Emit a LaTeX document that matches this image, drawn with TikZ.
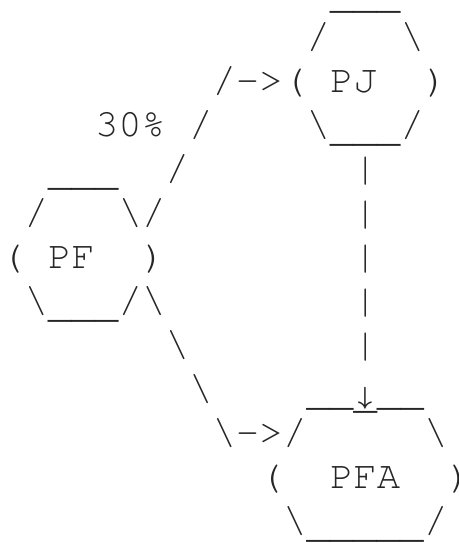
\documentclass[tikz,border=0pt]{standalone}
\usepackage[T1]{fontenc}
% Courier-style typewriter face for the character drawing
\newcommand\asciifont{\fontencoding{T1}\fontfamily{pcr}\fontsize{39}{44}\selectfont}
\newcommand\bs{\textbackslash}
% one character cell is 23.5pt wide, one text line 44.08pt high
\newcommand\cellw{23.5}
\newcommand\lineh{44.08}
\newcommand\basex{1}
\newcommand\basey{4}
\tikzset{
  glyph/.style={anchor=base west, inner sep=0pt, outer sep=0pt, font=\asciifont, text=black!85},
  label/.style={glyph},
  rule/.style={glyph, yshift=-5pt},
}
% \gl{name}{column}{line}{characters}
\newcommand\gl[4]{\node[glyph] (#1) at ({\basex+#2*\cellw},{\basey+#3*\lineh}) {#4};}
% \us{name}{column}{line}{underscores}
\newcommand\us[4]{\node[rule] (#1) at ({\basex+#2*\cellw},{\basey+#3*\lineh}) {#4};}
\begin{document}
\begin{tikzpicture}[x=1pt,y=-1pt]
  \useasboundingbox[fill=white] (0,0) rectangle (458,543);

  % hexagon PJ
  \us{pj-top}{14}{0}{\_\_\_}
  \gl{pj-ul}{13}{1}{/}
  \gl{pj-ur}{17}{1}{\bs}
  \gl{pj-l}{12}{2}{(}
  \node[label] (PJ) at ({\basex+14*\cellw},{\basey+2*\lineh}) {PJ};
  \gl{pj-r}{18}{2}{)}
  \gl{pj-bl}{13}{3}{\bs}
  \us{pj-bot}{14}{3}{\_\_\_}
  \gl{pj-br}{17}{3}{/}

  % hexagon PF
  \us{pf-top}{2}{4}{\_\_\_}
  \gl{pf-ul}{1}{5}{/}
  \gl{pf-ur}{5}{5}{\bs}
  \gl{pf-l}{0}{6}{(}
  \node[label] (PF) at ({\basex+2*\cellw},{\basey+6*\lineh}) {PF};
  \gl{pf-r}{6}{6}{)}
  \gl{pf-bl}{1}{7}{\bs}
  \us{pf-bot}{2}{7}{\_\_\_}
  \gl{pf-br}{5}{7}{/}

  % hexagon PFA
  \us{pfa-top-a}{13}{9}{\_\_}
  \node[rule, yshift=-3pt] (pfa-top-m) at ({\basex+15*\cellw},{\basey+9*\lineh}) {\_};
  \us{pfa-top-b}{16}{9}{\_\_}
  \gl{pfa-ul}{12}{10}{/}
  \gl{pfa-ur}{18}{10}{\bs}
  \gl{pfa-l}{11}{11}{(}
  \node[label] (PFA) at ({\basex+14*\cellw},{\basey+11*\lineh}) {PFA};
  \gl{pfa-r}{19}{11}{)}
  \gl{pfa-bl}{12}{12}{\bs}
  \us{pfa-bot}{13}{12}{\_\_\_\_\_}
  \gl{pfa-br}{18}{12}{/}

  % connector PF -> PJ, labelled 30%
  \gl{a1}{6}{5}{/}
  \gl{a2}{7}{4}{/}
  \gl{a3}{8}{3}{/}
  \gl{a4}{9}{2}{/->}
  \gl{pct}{4}{3}{30\%}

  % connector PF -> PFA
  \gl{b1}{6}{7}{\bs}
  \gl{b2}{7}{8}{\bs}
  \gl{b3}{8}{9}{\bs}
  \gl{b4}{9}{10}{\bs->}

  % connector PJ -> PFA
  \gl{c1}{15}{4}{|}
  \gl{c2}{15}{5}{|}
  \gl{c3}{15}{6}{|}
  \gl{c4}{15}{7}{|}
  \gl{c5}{15}{8}{|}
  \node[anchor=south, inner sep=0pt, text=black!85, font=\fontsize{31}{31}\selectfont\boldmath]
    (c-tip) at (365,410) {$\downarrow$};
\end{tikzpicture}
\end{document}
